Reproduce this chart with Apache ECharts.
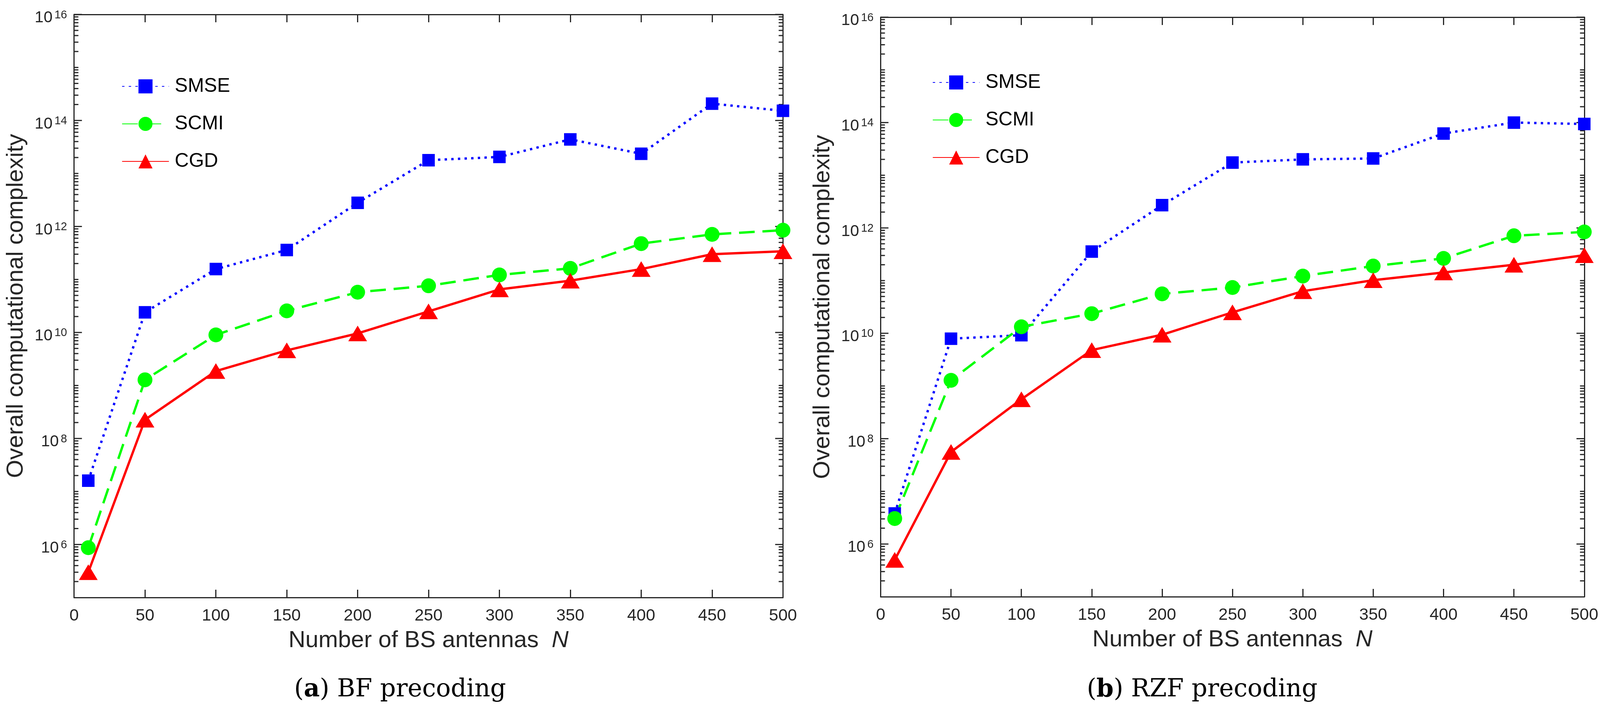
<!DOCTYPE html>
<html>
<head>
<meta charset="utf-8">
<script src="https://cdn.jsdelivr.net/npm/echarts@6/dist/echarts.min.js"></script>
<style>
  html, body { margin: 0; padding: 0; background: #fff; overflow: hidden; }
  #main { width: 4275px; height: 1822px; }
</style>
</head>
<body>
<div id="main"></div>
<script>
// number of BS antennas N
const antennas = [10, 50, 100, 150, 200, 250, 300, 350, 400, 450, 500];

// (a) BF precoding
const bfSMSE = [1.6e7, 2.4e10, 1.57e11, 3.6e11, 2.8e12, 1.78e13, 2.05e13, 4.4e13, 2.35e13, 2.08e14, 1.52e14];
const bfSCMI = [8.7e5, 1.28e9, 9.0e9, 2.56e10, 5.75e10, 7.6e10, 1.22e11, 1.62e11, 4.75e11, 7.1e11, 8.5e11];
const bfCGD  = [3.0e5, 2.26e8, 1.87e9, 4.6e9, 9.6e9, 2.5e10, 6.5e10, 9.5e10, 1.57e11, 3.0e11, 3.4e11];

// (b) RZF precoding
const rzfSMSE = [3.8e6, 7.9e9, 9.2e9, 3.56e11, 2.7e12, 1.74e13, 2.0e13, 2.08e13, 6.2e13, 1.0e14, 9.4e13];
const rzfSCMI = [3.05e6, 1.28e9, 1.33e10, 2.36e10, 5.6e10, 7.4e10, 1.22e11, 1.89e11, 2.64e11, 7.1e11, 8.4e11];
const rzfCGD  = [5.0e5, 5.6e7, 5.6e8, 4.8e9, 9.4e9, 2.5e10, 6.3e10, 1.02e11, 1.43e11, 2.0e11, 3.04e11];

const seriesNames = ['SMSE', 'SCMI', 'CGD'];
const captions = ['({b|a}) BF precoding', '({b|b}) RZF precoding'];

const axisColor = '#262626';
const sans = '"Liberation Sans", Arial, Helvetica, sans-serif';
const serif = '"DejaVu Serif", "Liberation Serif", serif';

// the layout is measured on a 4275 wide picture; squeeze x to the real viewport
const W = Math.min(window.innerWidth || 4275, 4275);
const sx = W / 4275;
const box = document.getElementById('main');
box.style.width = W + 'px';

const grids = [
  { left: 198 * sx, top: 37, width: 1894 * sx, height: 1492 },
  { left: 2353 * sx, top: 44, width: 1880 * sx, height: 1483 }
];
const legendPos = [[320 * sx, 191], [2486 * sx, 181]];
const captionX = [1069 * sx, 3212 * sx];

const styles = {
  SMSE: { color: '#0000ff', type: [6, 11], symbol: 'rect', size: 32 },
  SCMI: { color: '#00ff00', type: [40, 20], symbol: 'circle', size: 38 },
  CGD:  { color: '#ff0000', type: 'solid', symbol: 'triangle', size: [48, 40] }
};

function pairs(ys) {
  return antennas.map((n, i) => [n, ys[i]]);
}

function makeXAxes(g) {
  const base = {
    type: 'value', gridIndex: g, min: 0, max: 500, interval: 50,
    axisLine: { show: true, onZero: false, lineStyle: { color: axisColor, width: 3 } },
    axisTick: { show: true, inside: true, length: 20, lineStyle: { color: axisColor, width: 3 } },
    splitLine: { show: false }
  };
  return [
    Object.assign({}, base, {
      position: 'bottom',
      axisLabel: { margin: 26, fontSize: 43, fontFamily: sans, color: axisColor },
      name: 'Number of BS antennas  {i|N}',
      nameLocation: 'middle',
      nameGap: 80,
      nameTextStyle: {
        fontSize: 60, fontFamily: sans, color: axisColor,
        rich: { i: { fontSize: 60, fontFamily: sans, color: axisColor, fontStyle: 'italic' } }
      }
    }),
    Object.assign({}, base, { position: 'top', axisLabel: { show: false } })
  ];
}

function makeYAxes(g) {
  const base = {
    type: 'log', gridIndex: g, logBase: 10, min: 1e5, max: 1e16,
    splitNumber: 11, interval: 1,
    axisLine: { show: true, onZero: false, lineStyle: { color: axisColor, width: 3 } },
    axisTick: { show: false },
    splitLine: { show: false }
  };
  return [
    Object.assign({}, base, {
      position: 'left',
      axisLabel: {
        margin: 18,
        formatter: function (v) {
          const k = Math.round(Math.log10(v));
          return k % 2 === 0 ? '{b|10}{s|' + k + '}' : '';
        },
        rich: {
          b: { fontSize: 41, lineHeight: 46, padding: [18, 0, 0, 0], fontFamily: sans, color: axisColor },
          s: { fontSize: 29, lineHeight: 29, padding: [10, 0, 0, 5], verticalAlign: 'top', fontFamily: sans, color: axisColor }
        }
      },
      name: 'Overall computational complexity',
      nameLocation: 'middle',
      nameGap: 118,
      nameTextStyle: { fontSize: 60, fontFamily: sans, color: axisColor }
    }),
    Object.assign({}, base, { position: 'right', axisLabel: { show: false } })
  ];
}

const panels = [[bfSMSE, bfSCMI, bfCGD], [rzfSMSE, rzfSCMI, rzfCGD]];

const series = [];
panels.forEach((sets, g) => {
  sets.forEach((ys, j) => {
    const name = seriesNames[j];
    const st = styles[name];
    series.push({
      name: name,
      type: 'line',
      xAxisIndex: g * 2,
      yAxisIndex: g * 2,
      data: pairs(ys),
      symbol: st.symbol,
      symbolSize: st.size,
      showAllSymbol: true,
      clip: false,
      color: st.color,
      itemStyle: { color: st.color, borderWidth: 0 },
      lineStyle: { color: st.color, width: 6, type: st.type },
      emphasis: { disabled: true }
    });
  });
});

const legends = legendPos.map(p => ({
  data: seriesNames,
  orient: 'vertical',
  left: p[0],
  top: p[1],
  itemWidth: 125 * sx,
  itemHeight: 45,
  itemGap: 46,
  selectedMode: false,
  textStyle: { fontSize: 50, fontFamily: sans, color: '#000', padding: [0, 0, 0, 10] }
}));

const chart = echarts.init(box, null, { renderer: 'canvas' });
chart.setOption({
  backgroundColor: '#fff',
  animation: false,
  grid: grids,
  xAxis: makeXAxes(0).concat(makeXAxes(1)),
  yAxis: makeYAxes(0).concat(makeYAxes(1)),
  legend: legends,
  series: series
});

// log ticks (major at even decades, minor at 2..9 and odd decades), placed through the axis scale
const graphics = [];
grids.forEach((gr, g) => {
  const xl = chart.convertToPixel({ xAxisIndex: g * 2 }, 0);
  const xr = chart.convertToPixel({ xAxisIndex: g * 2 }, 500);
  const vals = [];
  for (let k = 5; k <= 15; k++) {
    for (let m = 1; m <= 9; m++) {
      if (k === 5 && m === 1) continue;
      vals.push([m * Math.pow(10, k), m === 1 && k % 2 === 0]);
    }
  }
  vals.push([1e16, true]);
  vals.forEach(([v, major]) => {
    const y = chart.convertToPixel({ yAxisIndex: g * 2 }, v);
    const len = major ? 20 : 11;
    [[xl, xl + len], [xr - len, xr]].forEach(([a, b]) => {
      graphics.push({
        type: 'line', silent: true,
        shape: { x1: a, y1: y, x2: b, y2: y },
        style: { stroke: axisColor, lineWidth: 3 }
      });
    });
  });
  graphics.push({
    type: 'text', silent: true,
    x: captionX[g], y: 1766,
    style: {
      text: captions[g],
      fontSize: 63, fontFamily: serif, fill: '#000',
      align: 'center', verticalAlign: 'middle',
      rich: { b: { fontSize: 63, fontFamily: serif, fontWeight: 'bold', fill: '#000' } }
    }
  });
});
chart.setOption({ graphic: graphics });
</script>
</body>
</html>
